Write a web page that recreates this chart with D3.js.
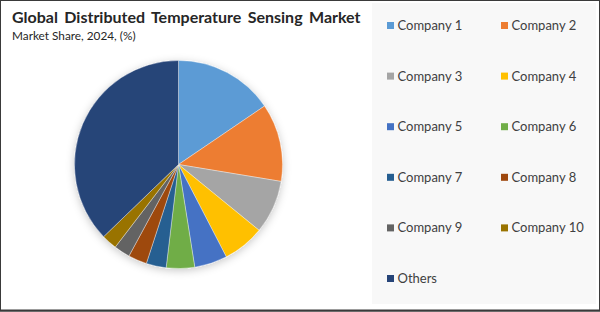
<!DOCTYPE html>
<html>
<head>
<meta charset="utf-8">
<script src="https://cdn.jsdelivr.net/npm/d3@7/dist/d3.min.js"></script>
<style>
  html, body { margin: 0; padding: 0; background: #fff; }
  svg { display: block; font-family: Lato, 'Open Sans', sans-serif; }
  .title { font-size: 16px; font-weight: 700; fill: #262626; word-spacing: 2.5px; }
  .subtitle { font-size: 11.8px; fill: #262626; }
  .legend-label { font-size: 13px; fill: #404040; }
</style>
</head>
<body>
<svg id="chart"></svg>
<script>
'use strict';

const companies = ['Company 1', 'Company 2', 'Company 3', 'Company 4', 'Company 5',
  'Company 6', 'Company 7', 'Company 8', 'Company 9', 'Company 10', 'Others'];
const shares = [15.5, 12.1, 8.3, 6.5, 5.1, 4.4, 3.1, 2.9, 2.5, 2.4, 37.2];
const colors = ['#5b9bd5', '#ed7d31', '#a5a5a5', '#ffc000', '#4472c4', '#70ad47',
  '#255e91', '#9e480e', '#636363', '#997300', '#264478'];

const width = 600;
const height = 312;

const svg = d3.select('#chart')
    .attr('width', width)
    .attr('height', height);

// frame
svg.append('rect')
    .attr('x', 0.5)
    .attr('y', 0.5)
    .attr('width', width - 1)
    .attr('height', height - 1.5)
    .attr('fill', '#fff')
    .attr('stroke', '#3a3a3a')
    .attr('stroke-width', 1);
svg.append('line')
    .attr('x1', 0).attr('x2', width)
    .attr('y1', height - 1.5).attr('y2', height - 1.5)
    .attr('stroke', '#3a3a3a')
    .attr('stroke-width', 2);

// legend panel background
svg.append('rect')
    .attr('x', 372)
    .attr('y', 3)
    .attr('width', 224)
    .attr('height', 301)
    .attr('fill', '#f8f8f8');

svg.append('text')
    .attr('class', 'title')
    .attr('x', 12)
    .attr('y', 23)
    .text('Global Distributed Temperature Sensing Market');

svg.append('text')
    .attr('class', 'subtitle')
    .attr('x', 12)
    .attr('y', 40)
    .text('Market Share, 2024, (%)');

const defs = svg.append('defs');
const shadow = defs.append('filter')
    .attr('id', 'pie-shadow')
    .attr('x', '-20%').attr('y', '-20%')
    .attr('width', '140%').attr('height', '140%');
shadow.append('feDropShadow')
    .attr('dx', 0)
    .attr('dy', 2)
    .attr('stdDeviation', 4)
    .attr('flood-color', '#000')
    .attr('flood-opacity', 0.22);

const radius = 104;
const color = d3.scaleOrdinal()
    .domain(companies)
    .range(colors);

const pie = d3.pie()
    .sort(null)
    .value(d => d.share);

const arc = d3.arc()
    .innerRadius(0)
    .outerRadius(radius);

const data = companies.map((c, i) => ({ name: c, share: shares[i] }));

const pieGroup = svg.append('g')
    .attr('transform', `translate(178.5, 164.5)`)
    .attr('filter', 'url(#pie-shadow)');

pieGroup.selectAll('path')
    .data(pie(data))
  .enter().append('path')
    .attr('d', arc)
    .attr('fill', d => color(d.data.name))
    .attr('stroke', '#ffffff')
    .attr('stroke-opacity', 0.6)
    .attr('stroke-width', 0.6);

// legend: two columns
const colX = d3.scaleOrdinal()
    .domain([0, 1])
    .range([387, 501]);
const rowY = d3.scaleLinear()
    .domain([0, 5])
    .range([25.5, 278.5]);

const legend = svg.append('g')
    .selectAll('g')
    .data(companies)
  .enter().append('g')
    .attr('transform', (d, i) => `translate(${colX(i % 2)}, ${rowY(Math.floor(i / 2))})`);

legend.append('rect')
    .attr('x', 0)
    .attr('y', -3.5)
    .attr('width', 7)
    .attr('height', 7)
    .attr('fill', d => color(d));

legend.append('text')
    .attr('class', 'legend-label')
    .attr('x', 10.5)
    .attr('dy', '0.35em')
    .text(d => d);
</script>
</body>
</html>
